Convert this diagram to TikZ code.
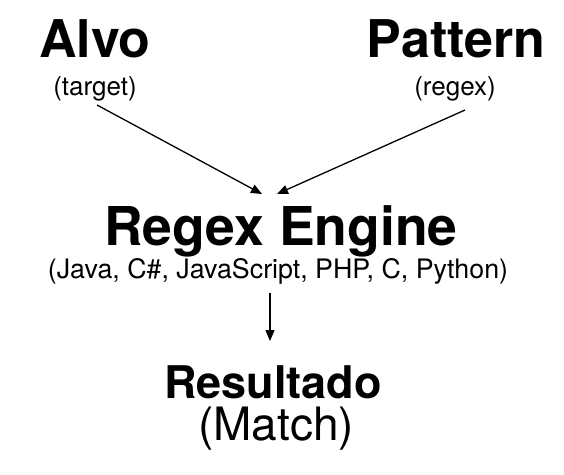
\documentclass[tikz,border=0pt]{standalone}
\usepackage{fontspec}
\setmainfont{TeX Gyre Heros}
\usetikzlibrary{arrows.meta}
\tikzset{
  big/.style={font=\fontsize{52}{56}\selectfont\bfseries, inner sep=0pt, anchor=base},
  midbold/.style={font=\fontsize{45}{50}\selectfont\bfseries, inner sep=0pt, anchor=base},
  small/.style={font=\fontsize{26}{30}\selectfont, inner sep=0pt, anchor=base},
  large/.style={font=\fontsize{46}{50}\selectfont, inner sep=0pt, anchor=base},
  arr/.style={line width=1.3pt, -{Triangle[length=11pt,width=9pt]}}
}
\begin{document}
\begin{tikzpicture}[x=1pt,y=-1pt]
\useasboundingbox (0,0) rectangle (564,474);
\node[big] (alvo) at (95,57) {Alvo};
\node[small] (target) at (95,95) {(target)};
\node[big] (pattern) at (456,57) {Pattern};
\node[small] (regex) at (455,95) {(regex)};
\node[big, font=\fontsize{53.5}{56}\selectfont\bfseries] (engine) at (281,245) {Regex Engine};
\node[small, font=\fontsize{26.8}{30}\selectfont] (langs) at (278,278) {(Java, C\#, JavaScript, PHP, C, Python)};
\node[midbold] (res) at (273,398) {Resultado};
\node[large] (match) at (276,440) {(Match)};
\coordinate (a1) at (97,105);
\coordinate (a2) at (262,194);
\coordinate (b1) at (465,110);
\coordinate (b2) at (277,194);
\coordinate (c1) at (270,293);
\coordinate (c2) at (270,341);
\draw[arr] (a1) -- (a2);
\draw[arr] (b1) -- (b2);
\draw[arr] (c1) -- (c2);
\end{tikzpicture}
\end{document}
